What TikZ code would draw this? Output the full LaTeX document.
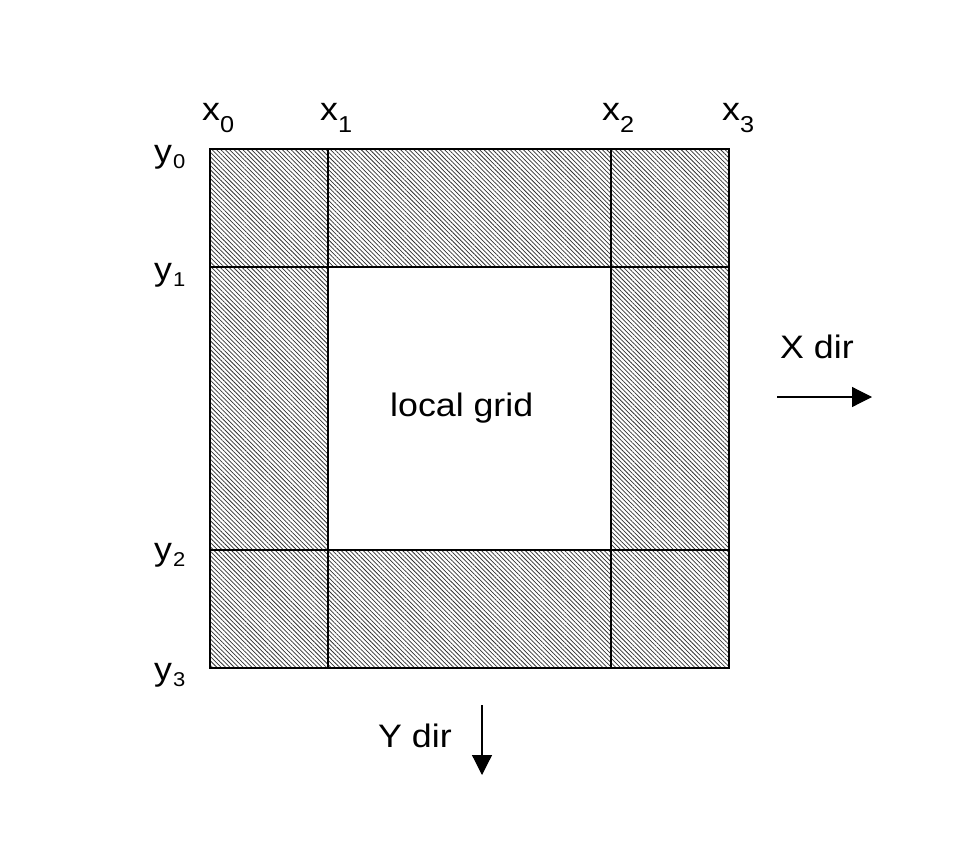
\documentclass[tikz,border=0pt]{standalone}
\usepackage{fontspec}
\setmainfont{Liberation Sans}[FakeStretch=1.1]
\usetikzlibrary{patterns.meta,arrows.meta}
\newcommand\xsub[1]{\raisebox{-12pt}{\fontsize{23}{23}\selectfont #1}}
\newcommand\ysub[1]{\hspace{1pt}\raisebox{-6pt}{\fontsize{20}{20}\selectfont #1}}
\tikzset{
  lbl/.style={anchor=base west,inner sep=0pt,font=\fontsize{32.5}{38}\selectfont},
  hatch/.style={pattern={Lines[angle=-45,distance=3.1pt,line width=0.75pt]},pattern color=black!80},
  gridline/.style={line width=1.2pt},
  dirarrow/.style={line width=1.2pt,-{Triangle[length=20pt,width=20pt]}}
}
\begin{document}
\begin{tikzpicture}[x=1pt,y=-1pt]
\useasboundingbox (0,0) rectangle (966,867);
\fill[white] (0,0) rectangle (966,867);
\fill[hatch,even odd rule] (210,149) rectangle (729,668) (328,267) rectangle (611,550);
\draw[gridline,line width=1.6pt] (210,149) rectangle (729,668);
\draw[gridline] (328,149) -- (328,668);
\draw[gridline] (611,149) -- (611,668);
\draw[gridline] (210,267) -- (729,267);
\draw[gridline] (210,550) -- (729,550);
\node[lbl] (x0) at (202,120) {x\xsub{0}};
\node[lbl] (x1) at (320,120) {x\xsub{1}};
\node[lbl] (x2) at (602,120) {x\xsub{2}};
\node[lbl] (x3) at (722,120) {x\xsub{3}};
\node[lbl] (y0) at (154,162) {y\ysub{0}};
\node[lbl] (y1) at (154,280) {y\ysub{1}};
\node[lbl] (y2) at (154,560) {y\ysub{2}};
\node[lbl] (y3) at (154,680) {y\ysub{3}};
\node[lbl] (lg) at (390,416) {local grid};
\node[lbl] (xd) at (780,358) {X dir};
\node[lbl] (yd) at (378,747) {Y dir};
\coordinate (xa) at (777,397);
\coordinate (xb) at (872,397);
\coordinate (ya) at (482,705);
\coordinate (yb) at (482,775);
\draw[dirarrow] (xa) -- (xb);
\draw[dirarrow] (ya) -- (yb);
\end{tikzpicture}
\end{document}
